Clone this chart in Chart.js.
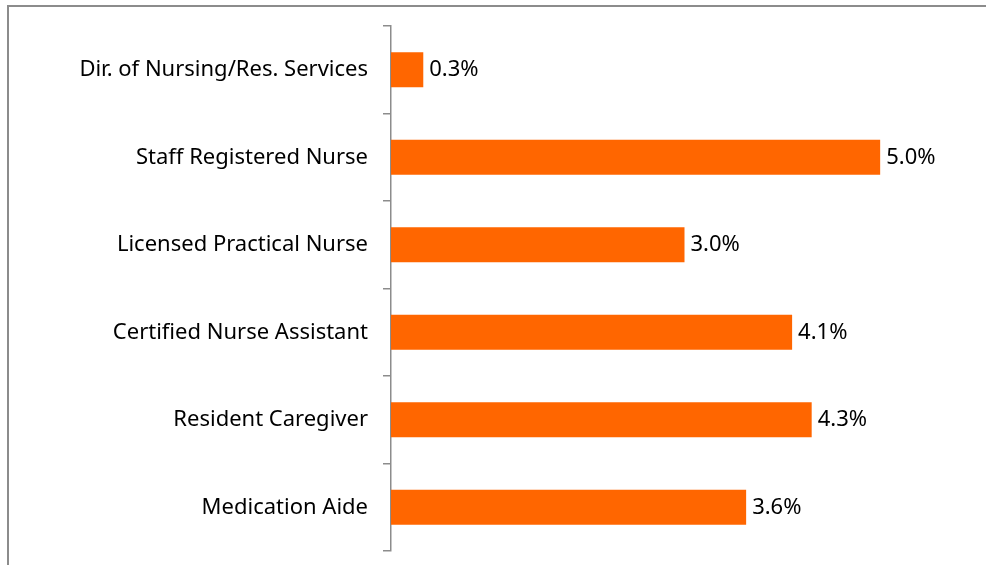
<!DOCTYPE html>
<html>
<head>
<meta charset="utf-8">
<script src="https://cdn.jsdelivr.net/npm/chart.js@4"></script>
<style>
  body { margin: 0; background: #fff; overflow: hidden; }
  #wrap { position: relative; width: 986px; height: 565px; }
  #frame { position: absolute; left: 7px; top: 5px; width: 1000px; height: 600px;
           border-top: 2px solid #8c8c8c; border-left: 2px solid #8c8c8c; }
  canvas { position: absolute; left: 0; top: 0; }
</style>
</head>
<body>
<div id="wrap">
  <div id="frame"></div>
  <canvas id="grafico" width="986" height="565"></canvas>
</div>
<script>
const categorias = [
  "Dir. of Nursing/Res. Services",
  "Staff Registered Nurse",
  "Licensed Practical Nurse",
  "Certified Nurse Assistant",
  "Resident Caregiver",
  "Medication Aide"
];
const valores = [0.33, 5.0, 3.0, 4.1, 4.3, 3.63];
const rotulos = ["0.3%", "5.0%", "3.0%", "4.1%", "4.3%", "3.6%"];

// rotulos de valor ao lado das barras
const rotulosPlugin = {
  id: "rotulos",
  afterDatasetsDraw(chart) {
    const ctx = chart.ctx;
    const meta = chart.getDatasetMeta(0);
    ctx.save();
    ctx.font = "22px 'Noto Sans'";
    ctx.fillStyle = "#000";
    ctx.textAlign = "left";
    ctx.textBaseline = "middle";
    meta.data.forEach((bar, i) => {
      ctx.fillText(rotulos[i], bar.x + 6, bar.y);
    });
    ctx.restore();
  }
};

new Chart(document.getElementById("grafico"), {
  type: "bar",
  data: {
    labels: categorias,
    datasets: [{
      data: valores,
      backgroundColor: "#ff6600",
      categoryPercentage: 1,
      barPercentage: 0.4
    }]
  },
  options: {
    indexAxis: "y",
    responsive: false,
    animation: false,
    layout: { padding: { top: 26, bottom: 14, left: 0, right: 8 } },
    plugins: { legend: { display: false }, tooltip: { enabled: false } },
    scales: {
      x: { display: false, min: 0, max: 6 },
      y: {
        afterFit: (scale) => {
          scale.width = 391;
          scale.paddingTop = 0;
          scale.paddingBottom = 0;
        },
        grid: { drawOnChartArea: false, tickLength: 8, color: "#8c8c8c", lineWidth: 1.5, offset: true },
        border: { color: "#8c8c8c", width: 1.5 },
        ticks: { color: "#000", padding: 15, font: { family: "Noto Sans", size: 22 } }
      }
    }
  },
  plugins: [rotulosPlugin]
});
</script>
</body>
</html>
